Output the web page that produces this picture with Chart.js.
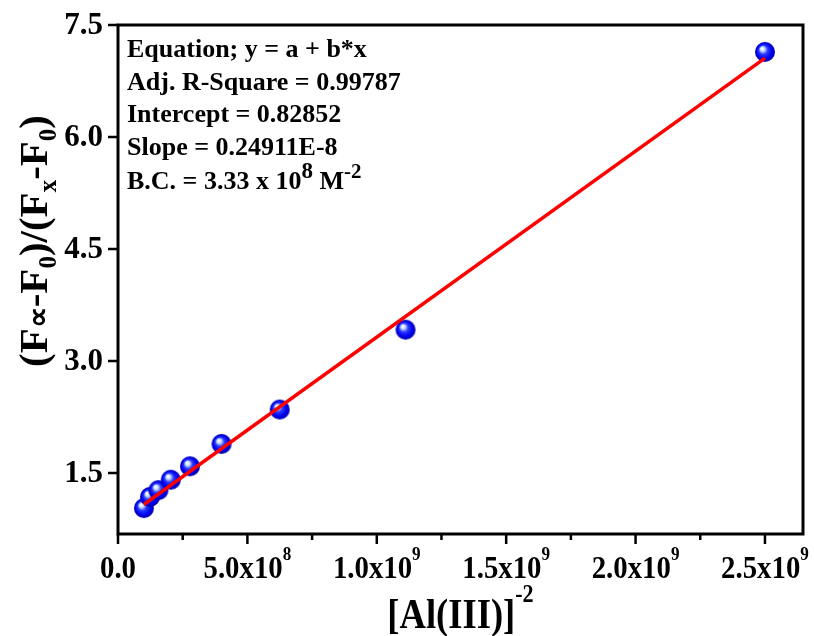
<!DOCTYPE html>
<html>
<head>
<meta charset="utf-8">
<script src="https://cdn.jsdelivr.net/npm/chart.js@4/dist/chart.umd.min.js"></script>
<style>
  body { margin: 0; background: #fff; }
  #wrap { width: 814px; height: 636px; position: relative; }
</style>
</head>
<body>
<div id="wrap"><canvas id="chart"></canvas></div>
<script>
// measured points, [Al(III)]^-2 vs (Finf-F0)/(Fx-F0)
const xValues = [1.0e8, 1.235e8, 1.5625e8, 2.04e8, 2.78e8, 4.0e8, 6.25e8, 1.111e9, 2.5e9];
const yValues = [1.03, 1.18, 1.27, 1.41, 1.59, 1.89, 2.35, 3.42, 7.14];

// fitted line ends as drawn
const fitX = [1.0e8, 2.5e9];
const fitY = [1.078, 7.056];

const xMajor = [0, 5e8, 1e9, 1.5e9, 2e9, 2.5e9];
const xMinor = [2.5e8, 7.5e8, 1.25e9, 1.75e9, 2.25e9];
const xTickText = [["0.0", ""], ["5.0x10", "8"], ["1.0x10", "9"], ["1.5x10", "9"], ["2.0x10", "9"], ["2.5x10", "9"]];
const yMajor = [1.5, 3.0, 4.5, 6.0, 7.5];
const yTickText = ["1.5", "3.0", "4.5", "6.0", "7.5"];

const noteLines = [
  "Equation; y = a + b*x",
  "Adj. R-Square = 0.99787",
  "Intercept = 0.82852",
  "Slope = 0.24911E-8"
];

const SERIF = '"Liberation Serif", "Times New Roman", serif';

// sphere marker
function makeBall(r) {
  const c = document.createElement("canvas");
  c.width = c.height = r * 2 + 2;
  const g = c.getContext("2d");
  const cx = r + 1, cy = r + 1;
  const grad = g.createRadialGradient(cx - r * 0.3, cy - r * 0.35, 0.5, cx, cy, r);
  grad.addColorStop(0, "#ffffff");
  grad.addColorStop(0.18, "#c8dcff");
  grad.addColorStop(0.42, "#2a3cff");
  grad.addColorStop(0.75, "#0000f0");
  grad.addColorStop(1, "#0000a8");
  g.fillStyle = grad;
  g.beginPath();
  g.arc(cx, cy, r, 0, Math.PI * 2);
  g.fill();
  return c;
}
const ball = makeBall(10);

// text runs with sub/superscripts: [text, sizeFactor, dy]
function runWidth(ctx, runs, size) {
  let w = 0;
  runs.forEach(r => {
    ctx.font = "bold " + Math.round(size * r[1]) + "px " + SERIF;
    w += ctx.measureText(r[0]).width;
  });
  return w;
}
function drawRuns(ctx, runs, x, y, size) {
  let cx = x;
  runs.forEach(r => {
    ctx.font = "bold " + Math.round(size * r[1]) + "px " + SERIF;
    ctx.fillText(r[0], cx, y + r[2] * size);
    cx += ctx.measureText(r[0]).width;
  });
}

const framePlugin = {
  id: "frame",
  afterDraw(chart) {
    const ctx = chart.ctx;
    const a = chart.chartArea;
    const xs = chart.scales.x, ys = chart.scales.y;
    ctx.save();
    ctx.strokeStyle = "#000";
    ctx.fillStyle = "#000";
    ctx.lineWidth = 3;
    ctx.strokeRect(a.left, a.top, a.right - a.left, a.bottom - a.top);

    ctx.lineWidth = 2.5;
    ctx.beginPath();
    xMajor.forEach(v => {
      const px = xs.getPixelForValue(v);
      ctx.moveTo(px, a.bottom); ctx.lineTo(px, a.bottom + 10);
    });
    xMinor.forEach(v => {
      const px = xs.getPixelForValue(v);
      ctx.moveTo(px, a.bottom); ctx.lineTo(px, a.bottom + 6);
    });
    yMajor.forEach(v => {
      const py = ys.getPixelForValue(v);
      ctx.moveTo(a.left, py); ctx.lineTo(a.left - 10, py);
    });
    ctx.stroke();

    // y tick labels
    ctx.textAlign = "right";
    ctx.textBaseline = "middle";
    ctx.font = "bold 31px " + SERIF;
    yMajor.forEach((v, i) => {
      ctx.fillText(yTickText[i], a.left - 15, ys.getPixelForValue(v) + 1);
    });

    // x tick labels
    ctx.textAlign = "left";
    ctx.textBaseline = "alphabetic";
    const xs0 = 32, sq = 0.9;
    xMajor.forEach((v, i) => {
      const t = xTickText[i];
      const runs = [[t[0], 1, 0]];
      if (t[1]) runs.push([t[1], 0.6, -0.55]);
      const w = runWidth(ctx, runs, xs0) * sq;
      const px = xs.getPixelForValue(v);
      ctx.save();
      ctx.translate(px - w / 2, a.bottom + 44);
      ctx.scale(sq, 1);
      drawRuns(ctx, runs, 0, 0, xs0);
      ctx.restore();
    });

    // x title
    const xt = [["[Al(III)]", 1, 0], ["-2", 0.6, -0.6]];
    const xtSize = 43;
    const xw = runWidth(ctx, xt, xtSize) * 0.85;
    ctx.save();
    ctx.translate((a.left + a.right) / 2 - xw / 2, 628);
    ctx.scale(0.85, 1);
    drawRuns(ctx, xt, 0, 0, xtSize);
    ctx.restore();

    // y title
    const yt = [["(F", 1, 0], ["\u221D", 0.72, 0.02], ["-F", 1, 0], ["0", 0.62, 0.22], [")/(F", 1, 0], ["x", 0.62, 0.22], ["-F", 1, 0], ["0", 0.62, 0.22], [")", 1, 0]];
    const ytSize = 41;
    const yw = runWidth(ctx, yt, ytSize);
    ctx.save();
    ctx.translate(47, 241 + yw / 2);
    ctx.rotate(-Math.PI / 2);
    drawRuns(ctx, yt, 0, 0, ytSize);
    ctx.restore();

    // fit note
    const ns = 26;
    noteLines.forEach((s, i) => {
      drawRuns(ctx, [[s, 1, 0]], 127, 57 + i * 32.5, ns);
    });
    drawRuns(ctx, [["B.C. = 3.33 x 10", 1, 0], ["8", 0.9, -0.42], [" M", 1, 0], ["-2", 0.8, -0.42]], 127, 189, ns);

    ctx.restore();
  }
};

new Chart(document.getElementById("chart").getContext("2d"), {
  type: "scatter",
  data: {
    datasets: [
      {
        data: fitX.map((x, i) => ({ x: x, y: fitY[i] })),
        showLine: true,
        borderColor: "#ff0000",
        borderWidth: 3.5,
        pointRadius: 0
      },
      {
        data: xValues.map((x, i) => ({ x: x, y: yValues[i] })),
        pointStyle: ball,
        pointRadius: 10,
        showLine: false
      }
    ]
  },
  options: {
    responsive: true,
    maintainAspectRatio: false,
    animation: false,
    layout: { padding: { top: 25, right: 11, left: 0, bottom: 0 } },
    plugins: { legend: { display: false }, tooltip: { enabled: false } },
    scales: {
      x: {
        type: "linear", min: 0, max: 2.647e9,
        grid: { display: false }, border: { display: false },
        ticks: { display: false },
        afterFit(s) { s.height = 102; }
      },
      y: {
        type: "linear", min: 0.683, max: 7.5,
        grid: { display: false }, border: { display: false },
        ticks: { display: false },
        afterFit(s) { s.width = 118; }
      }
    }
  },
  plugins: [framePlugin]
});
</script>
</body>
</html>
